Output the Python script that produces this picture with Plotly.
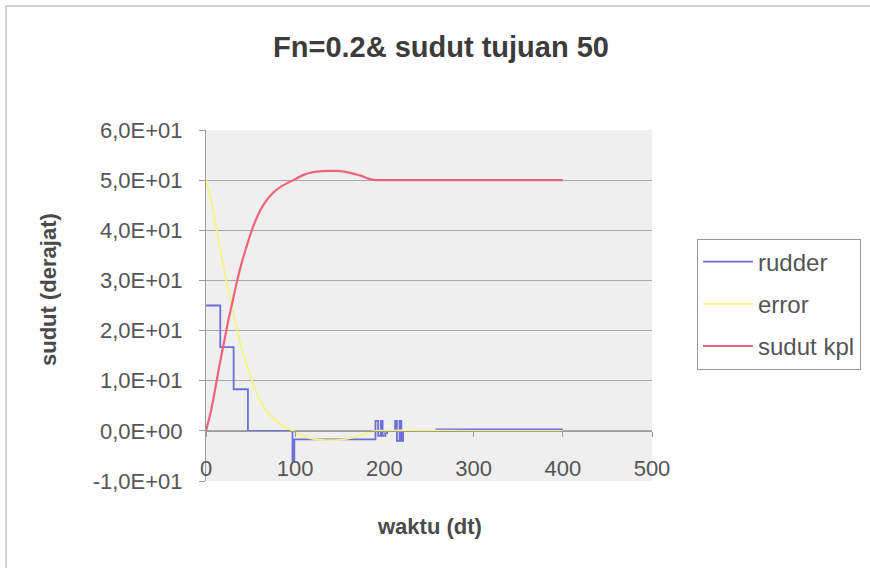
import plotly.graph_objects as go

# ---------------- data ----------------
t_rudder = [0, 16, 31, 47, 97, 99, 190, 193, 196, 198, 201, 203, 212, 214, 217, 219, 221, 258, 400]
rudder   = [25, 16.7, 8.3, 0, -6, -1.7, 2, -1, 2, -1, -0.5, 0, 2, -2, 2, -2, 0, 0.3, 0.3]

t_error = [0, 5, 10, 15, 20, 25, 30, 35, 40, 45, 50, 55, 60, 70, 80, 90, 98, 100, 110, 120, 130,
           143, 155, 165, 175, 182, 190, 300, 400]
error   = [50, 46.5, 42, 37, 32.5, 28, 24, 20, 16.5, 13.5, 10.8, 8.3, 6.3, 3.5, 1.8, 0.6, 0, -0.2,
           -1.1, -1.6, -1.8, -1.85, -1.7, -1.3, -0.8, -0.3, 0, 0, 0]

t_sudut = [0, 5, 10, 15, 20, 25, 30, 35, 40, 45, 50, 55, 60, 65, 70, 80, 90, 98, 100, 110, 120, 130,
           143, 155, 165, 175, 182, 190, 200, 300, 400]
sudut   = [0, 3.5, 8, 13, 17.5, 22, 26, 30, 33.5, 36.5, 39.3, 41.7, 43.7, 45.2, 46.5, 48.2, 49.3, 50,
           50.2, 51.1, 51.6, 51.8, 51.85, 51.7, 51.3, 50.8, 50.3, 50, 50, 50, 50]

series_names = ["rudder", "error", "sudut kpl"]
series_colors = ["#6e6ed8", "#f4f482", "#f0637c"]

x_ticks = [0, 100, 200, 300, 400, 500]
y_ticks = [-10, 0, 10, 20, 30, 40, 50, 60]
y_ticklabels = ["-1,0E+01", "0,0E+00", "1,0E+01", "2,0E+01", "3,0E+01", "4,0E+01", "5,0E+01", "6,0E+01"]
x_range = [0, 500]
y_range = [-10, 60]

title_text = "Fn=0.2& sudut tujuan 50"
x_title = "waktu (dt)"
y_title = "sudut (derajat)"

FONT = "Liberation Sans, Arial, sans-serif"
TXT = "#555555"

fig = go.Figure()
fig.add_trace(go.Scatter(x=t_rudder, y=rudder, name=series_names[0], mode="lines",
                         line=dict(color=series_colors[0], width=1.8, shape="hv"),
                         legendgroup="a"))
fig.add_trace(go.Scatter(x=t_error, y=error, name=series_names[1], mode="lines",
                         line=dict(color=series_colors[1], width=1.8, shape="spline", smoothing=0.6),
                         legendgroup="b"))
fig.add_trace(go.Scatter(x=t_sudut, y=sudut, name=series_names[2], mode="lines",
                         line=dict(color=series_colors[2], width=2.2, shape="spline", smoothing=0.6),
                         legendgroup="c"))

W, H = 870, 568
L, R, T, B = 206, 218, 130, 87
pw, ph = W - L - R, H - T - B

def px_x(p):
    return (p - L) / pw

def px_y(p):
    return (H - B - p) / ph

fig.update_layout(
    width=W, height=H,
    margin=dict(l=L, r=R, t=T, b=B, autoexpand=False),
    paper_bgcolor="white",
    plot_bgcolor="#efefef",
    font=dict(family=FONT, color=TXT, size=22),
    title=dict(text=title_text, x=441 / W, xanchor="center", y=1 - 47 / H, yanchor="middle",
               font=dict(size=29, weight="bold", color="#3c3c3c", family=FONT)),
    showlegend=True,
    legend=dict(x=px_x(697), xanchor="left", y=px_y(304), yanchor="middle",
                bgcolor="white", bordercolor="#9a9a9a", borderwidth=1,
                font=dict(size=24, color=TXT, family=FONT),
                tracegroupgap=8, itemwidth=50, traceorder="grouped"),
    xaxis=dict(range=x_range, tickvals=x_ticks, showgrid=False, zeroline=False,
               showline=True, linecolor="#9a9a9a", linewidth=1,
               ticks="outside", ticklen=5, tickcolor="#9a9a9a",
               anchor="free", position=(0 - y_range[0]) / (y_range[1] - y_range[0]),
               ticklabelstandoff=13,
               tickfont=dict(size=22, color=TXT, family=FONT)),
    yaxis=dict(range=y_range, tickvals=y_ticks, ticktext=y_ticklabels,
               showgrid=True, gridcolor="#a8a8a8", gridwidth=1, zeroline=False,
               showline=True, linecolor="#9a9a9a", linewidth=1,
               ticks="outside", ticklen=6, tickcolor="#9a9a9a",
               ticklabelstandoff=12,
               tickfont=dict(size=22, color=TXT, family=FONT)),
    annotations=[
        dict(text=y_title, xref="paper", yref="paper", x=px_x(48), y=px_y(290),
             textangle=-90, showarrow=False, xanchor="center", yanchor="middle",
             font=dict(size=22, weight="bold", color="#4a4a4a", family=FONT)),
        dict(text=x_title, xref="paper", yref="paper", x=px_x(429), y=px_y(526),
             showarrow=False, xanchor="center", yanchor="middle",
             font=dict(size=22, weight="bold", color="#4a4a4a", family=FONT)),
    ],
    shapes=[
        dict(type="rect", xref="paper", yref="paper",
             x0=px_x(6), x1=px_x(900), y0=px_y(600), y1=px_y(6),
             line=dict(color="#c4c4c4", width=1.5), fillcolor="rgba(0,0,0,0)", layer="below"),
    ],
)

fig.write_html("out.html")
